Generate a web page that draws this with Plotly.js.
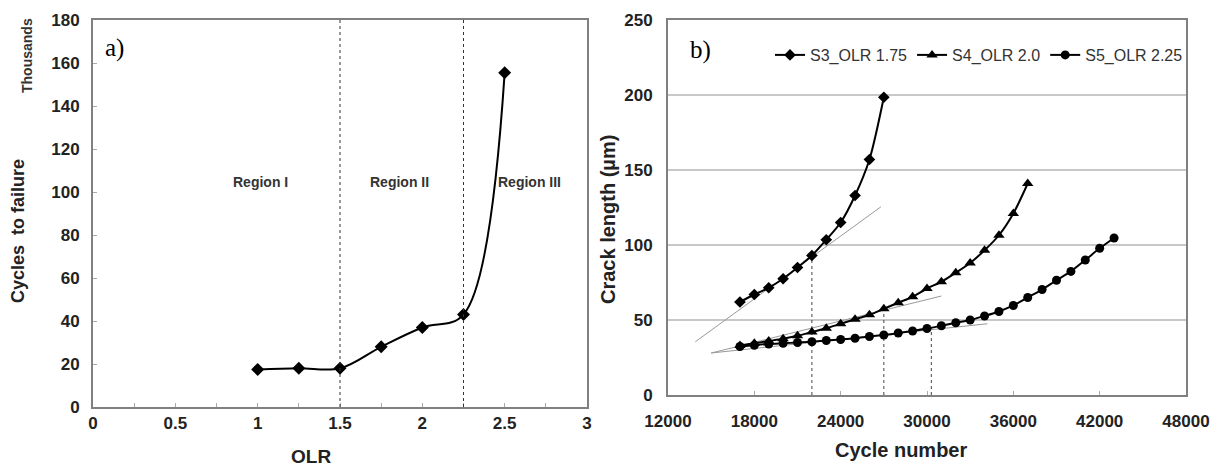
<!DOCTYPE html>
<html>
<head>
<meta charset="utf-8">
<script src="https://cdn.plot.ly/plotly-3.0.1.min.js"></script>
<style>html,body{margin:0;padding:0;background:#fff;}#chart{width:1219px;height:469px;}</style>
</head>
<body>
<div id="chart"></div>
<script>
// ---- Panel a) data ----
const olr = [1, 1.25, 1.5, 1.75, 2, 2.25, 2.5];
const cyclesToFailure = [17.5, 18, 18, 28, 37, 43, 155.5]; // thousands
const regionBounds = [1.5, 2.25];
const regionLabels = ['Region I', 'Region II', 'Region III'];

// ---- Panel b) data ----
const s3Cycles = [17000, 18000, 19000, 20000, 21000, 22000, 23000, 24000, 25000, 26000, 27000];
const s3Crack = [62, 67, 71.5, 77.5, 85, 93, 103.5, 115, 133, 157, 198.5];
const s4Cycles = [17000, 18000, 19000, 20000, 21000, 22000, 23000, 24000, 25000, 26000, 27000,
                  28000, 29000, 30000, 31000, 32000, 33000, 34000, 35000, 36000, 37000];
const s4Crack = [33, 34.5, 36, 37.5, 39.5, 42, 44.5, 47.5, 50.5, 53.5, 57.5,
                 61.5, 65.5, 71, 75.5, 81.5, 88, 96.5, 106.5, 121, 141];
const s5Cycles = [17000, 18000, 19000, 20000, 21000, 22000, 23000, 24000, 25000, 26000, 27000,
                  28000, 29000, 30000, 31000, 32000, 33000, 34000, 35000, 36000, 37000,
                  38000, 39000, 40000, 41000, 42000, 43000];
const s5Crack = [32.3, 33.2, 34, 34.5, 35, 35.5, 36.3, 37, 37.8, 39, 40,
                 41.3, 42.7, 44.3, 46.2, 48.2, 50, 52.7, 55.7, 59.7, 65,
                 70.3, 76.5, 82.4, 90, 97.8, 104.7];
const seriesNames = ['S3_OLR 1.75', 'S4_OLR 2.0', 'S5_OLR 2.25'];
// tangent lines (start/end)
const s3TangentX = [13900, 26800];
const s3TangentY = [35.5, 125.5];
const s4TangentX = [15000, 31000];
const s4TangentY = [28, 66];
const s5TangentX = [15000, 34200];
const s5TangentY = [28, 47.5];
// vertical drop lines (cycle, crack length)
const dropCycles = [22000, 27000, 30300];
const dropCrack = [93, 57.5, 44.5];

// ---- geometry helpers (pixel -> paper) ----
const W = 1219, H = 469;
const px = v => v / W;
const py = v => 1 - v / H;

const tickFont = {family: 'Liberation Sans, Arial, sans-serif', size: 17, color: '#222', weight: 'bold'};
const titleFont = {family: 'Liberation Sans, Arial, sans-serif', size: 18, color: '#222', weight: 'bold'};

const traces = [];

// Panel a
traces.push({
  x: olr, y: cyclesToFailure, xaxis: 'x', yaxis: 'y', type: 'scatter', mode: 'lines+markers',
  line: {color: '#000', width: 2, shape: 'spline', smoothing: 1},
  marker: {symbol: 'diamond', size: 10, color: '#000'},
  showlegend: false, hoverinfo: 'skip'
});

// Panel b helper lines
[[s3TangentX, s3TangentY], [s4TangentX, s4TangentY], [s5TangentX, s5TangentY]].forEach(([tx, ty]) => {
  traces.push({x: tx, y: ty, xaxis: 'x2', yaxis: 'y2', type: 'scatter', mode: 'lines',
    line: {color: '#999', width: 1}, showlegend: false, hoverinfo: 'skip'});
});
dropCycles.forEach((c, i) => {
  traces.push({x: [c, c], y: [0, dropCrack[i]], xaxis: 'x2', yaxis: 'y2', type: 'scatter', mode: 'lines',
    line: {color: '#444', width: 1, dash: 'dot'}, showlegend: false, hoverinfo: 'skip'});
});

// Panel b series
const series = [
  [s3Cycles, s3Crack, 'diamond', 9],
  [s4Cycles, s4Crack, 'triangle-up', 10],
  [s5Cycles, s5Crack, 'circle', 9]
];
series.forEach(([sx, sy, sym, sz], i) => {
  traces.push({
    x: sx, y: sy, xaxis: 'x2', yaxis: 'y2', type: 'scatter', mode: 'lines+markers', name: seriesNames[i],
    line: {color: '#000', width: 2, shape: 'spline', smoothing: 0.8},
    marker: {symbol: sym, size: sz, color: '#000'}, hoverinfo: 'skip'
  });
});

const axisCommon = {
  showline: true, linecolor: '#808080', linewidth: 2, mirror: true,
  showgrid: false, zeroline: false, tickfont: tickFont,
  exponentformat: 'none', separatethousands: false, fixedrange: true
};

const regionCenters = [1.02, 1.86, 2.65];

function ann(o) {
  return Object.assign({showarrow: false, xanchor: 'center', yanchor: 'middle'}, o);
}

const annotations = [
  ann({xref: 'paper', yref: 'paper', x: px(27), y: py(56), text: 'Thousands', textangle: -90,
   font: {family: 'Liberation Sans, Arial, sans-serif', size: 14, color: '#333', weight: 'bold'}}),
  ann({xref: 'paper', yref: 'paper', x: px(18), y: py(231), text: 'Cycles \u00a0to failure', textangle: -90,
   font: titleFont}),
  ann({xref: 'paper', yref: 'paper', x: px(311), y: py(456), text: 'OLR', font: {family: 'Liberation Sans, Arial, sans-serif', size: 19, color: '#222', weight: 'bold'}}),
  ann({xref: 'x', yref: 'y', x: 0.06, y: 167, xanchor: 'left', text: 'a)',
   font: {family: 'Liberation Serif, Times New Roman, serif', size: 25, color: '#000'}}),
  ann({xref: 'paper', yref: 'paper', x: px(608), y: py(220), text: 'Crack length (\u00b5m)', textangle: -90,
   font: {family: 'Liberation Sans, Arial, sans-serif', size: 20, color: '#222', weight: 'bold'}}),
  ann({xref: 'paper', yref: 'paper', x: px(901), y: py(450), text: 'Cycle number',
   font: {family: 'Liberation Sans, Arial, sans-serif', size: 20, color: '#222', weight: 'bold'}}),
  ann({xref: 'x2', yref: 'y2', x: 13390, y: 230, xanchor: 'left', text: 'b)',
   font: {family: 'Liberation Serif, Times New Roman, serif', size: 25, color: '#000'}})
];
regionLabels.forEach((t, i) => {
  annotations.push(ann({xref: 'x', yref: 'y', x: regionCenters[i], y: 104.5, text: t,
    font: {family: 'Liberation Sans, Arial, sans-serif', size: 14, color: '#333', weight: 'bold'}}));
});

const shapes = regionBounds.map(b => ({
  type: 'line', xref: 'x', yref: 'y', x0: b, x1: b, y0: 0, y1: 180,
  line: {color: '#333', width: 1, dash: 'dot'}
}));

const layout = {
  width: W, height: H,
  margin: {l: 0, r: 0, t: 0, b: 0},
  paper_bgcolor: '#fff', plot_bgcolor: '#fff',
  xaxis: Object.assign({}, axisCommon, {
    domain: [px(93), px(587)], anchor: 'y', range: [0, 3], dtick: 0.5, tick0: 0,
    ticks: 'inside', ticklen: 4, tickcolor: '#aaa',
    minor: {dtick: 0.25, ticks: 'inside', ticklen: 4, tickcolor: '#aaa'}
  }),
  yaxis: Object.assign({}, axisCommon, {
    domain: [py(407), py(20)], anchor: 'x', range: [0, 180], dtick: 20, tick0: 0,
    ticks: 'inside', ticklen: 4, tickcolor: '#aaa', ticklabelstandoff: 8
  }),
  xaxis2: Object.assign({}, axisCommon, {
    domain: [px(668), px(1186)], anchor: 'y2', range: [12000, 48000], dtick: 6000, tick0: 12000,
    ticks: 'inside', ticklen: 4, tickcolor: '#aaa', tickformat: 'd', ticklabelstandoff: 10
  }),
  yaxis2: Object.assign({}, axisCommon, {
    domain: [py(395), py(20)], anchor: 'x2', range: [0, 250], dtick: 50, tick0: 0,
    showgrid: true, gridcolor: '#c8c8c8', gridwidth: 2, ticks: '', ticklabelstandoff: 10
  }),
  legend: {
    orientation: 'h', x: px(770), y: py(55), xanchor: 'left', yanchor: 'middle',
    font: {family: 'Liberation Sans, Arial, sans-serif', size: 16, color: '#333'},
    bgcolor: 'rgba(0,0,0,0)', itemwidth: 30, traceorder: 'normal'
  },
  annotations: annotations,
  shapes: shapes,
  showlegend: true
};

Plotly.newPlot('chart', traces, layout, {displayModeBar: false, staticPlot: true});
</script>
</body>
</html>
